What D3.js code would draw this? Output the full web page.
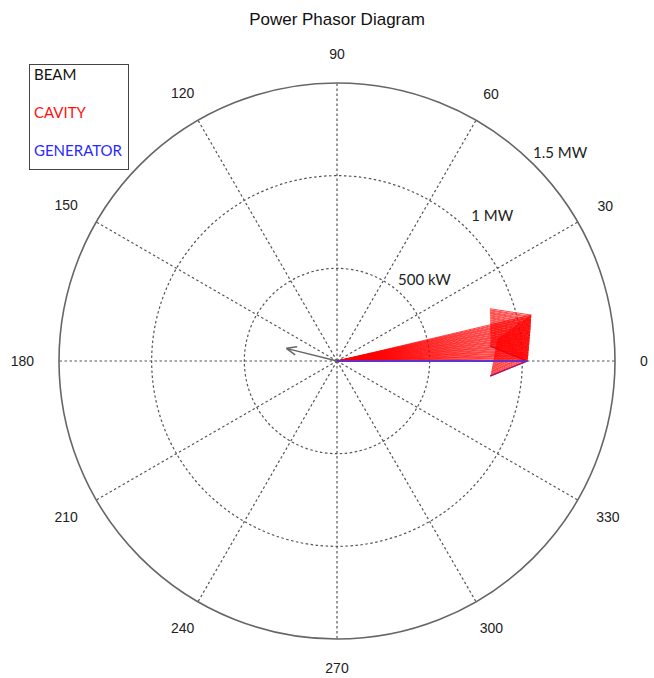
<!DOCTYPE html>
<html>
<head>
<meta charset="utf-8">
<script src="https://cdn.jsdelivr.net/npm/d3@7"></script>
<style>
  body { margin: 0; background: #fff; }
  svg { display: block; }
</style>
</head>
<body>
<svg width="654" height="678"></svg>
<script>
// angle ticks (degrees) and power rings (kW)
const angleTicks = [0, 30, 60, 90, 120, 150, 180, 210, 240, 270, 300, 330];
const ringValues = [500, 1000, 1500];
const ringLabels = ["500 kW", "1 MW", "1.5 MW"];

// phasors: angle in degrees, power in kW
const beamAngle = 166;
const beamPower = 282;
const generatorAngle = 0;
const generatorPower = 1026;
const cavityAngle = [0, 0.3, 0.7, 1.0, 1.4, 1.7, 2.0, 2.4, 2.7, 3.1, 3.4, 3.7, 4.1, 4.4, 4.8, 5.1, 5.4, 5.8, 6.1, 6.5,
  6.8, 7.1, 7.5, 7.8, 8.2, 8.5, 8.8, 9.2, 9.5, 9.9, 10.2, 10.5, 10.9, 11.2, 11.6, 11.9, 12.2, 12.6, 12.9, 13.3];
const cavityPower = [1028, 1029, 1030, 1030, 1031, 1032, 1033, 1033, 1034, 1035, 1036, 1037, 1038, 1038, 1040, 1041,
  1042, 1043, 1044, 1046, 1047, 1048, 1050, 1051, 1052, 1054, 1055, 1057, 1058, 1060, 1061, 1063, 1064, 1066, 1068,
  1069, 1071, 1073, 1075, 1077];

const legendItems = [
  { name: "BEAM", color: "#111" },
  { name: "CAVITY", color: "#ff1010" },
  { name: "GENERATOR", color: "#2a2aff" }
];

const svg = d3.select("svg");
const cx = 337, cy = 361, R = 278;
const g = svg.append("g").attr("transform", `translate(${cx},${cy})`);

const r = d3.scaleLinear().domain([0, 1500]).range([0, R]);
const rad = d => d * Math.PI / 180;
const px = (a, v) => r(v) * Math.cos(rad(a));
const py = (a, v) => -r(v) * Math.sin(rad(a));

// title
svg.append("text")
  .attr("x", cx).attr("y", 25)
  .attr("text-anchor", "middle")
  .style("font", "17px 'Liberation Sans', Arial, sans-serif")
  .attr("fill", "#111")
  .text("Power Phasor Diagram");

// spokes
g.selectAll(".spoke")
  .data(angleTicks)
  .enter().append("line")
  .attr("x1", 0).attr("y1", 0)
  .attr("x2", d => px(d, 1500)).attr("y2", d => py(d, 1500))
  .attr("stroke", "#555").attr("stroke-width", 1.2)
  .attr("stroke-dasharray", "2.5,2.5");

// rings
g.selectAll(".ring")
  .data(ringValues)
  .enter().append("circle")
  .attr("r", d => r(d))
  .attr("fill", "none")
  .attr("stroke", (d, i) => i === ringValues.length - 1 ? "#666" : "#555")
  .attr("stroke-width", (d, i) => i === ringValues.length - 1 ? 1.6 : 1.2)
  .attr("stroke-dasharray", (d, i) => i === ringValues.length - 1 ? null : "2.5,2.5");

// angle labels, wider ones pushed a bit further out on the sides
g.selectAll(".alabel")
  .data(angleTicks)
  .enter().append("text")
  .attr("text-anchor", "middle")
  .attr("dy", "0.35em")
  .style("font", "14px 'Liberation Sans', Arial, sans-serif")
  .attr("fill", "#222")
  .text(d => d)
  .each(function(d) {
    const w = this.getComputedTextLength();
    const c = Math.cos(rad(d));
    const rr = R + 29 + (w / 2 - 4) * c * c;
    d3.select(this)
      .attr("x", rr * Math.cos(rad(d)))
      .attr("y", -rr * Math.sin(rad(d)));
  });

// ring labels
g.selectAll(".rlabel")
  .data(ringValues)
  .enter().append("text")
  .attr("x", d => (r(d) + 27) * Math.cos(rad(43)))
  .attr("y", d => -(r(d) + 27) * Math.sin(rad(43)))
  .attr("dy", "0.35em")
  .attr("text-anchor", "middle")
  .style("font", "15px Lato, 'Noto Sans', sans-serif")
  .attr("fill", "#222")
  .text((d, i) => ringLabels[i]);

// arrow path: shaft plus two barbs, head is ~20% of the length
function arrowPath(a, v) {
  const x = px(a, v), y = py(a, v);
  const len = r(v) * 0.21;
  const back = rad(a + 180);
  const b1 = back - rad(22), b2 = back + rad(22);
  return `M0,0L${x},${y}` +
    `M${x},${y}L${x + len * Math.cos(b1)},${y - len * Math.sin(b1)}` +
    `M${x},${y}L${x + len * Math.cos(b2)},${y - len * Math.sin(b2)}`;
}

// generator phasor
g.append("path")
  .attr("d", arrowPath(generatorAngle, generatorPower))
  .attr("fill", "none")
  .attr("stroke", "#3a3aff")
  .attr("stroke-width", 1.5);

// cavity phasors
g.selectAll(".cavity")
  .data(cavityAngle)
  .enter().append("path")
  .attr("d", (d, i) => arrowPath(d, cavityPower[i]))
  .attr("fill", "none")
  .attr("stroke", "#ff0000")
  .attr("stroke-opacity", 0.8)
  .attr("stroke-width", 0.9);

// generator shaft again on top
g.append("line")
  .attr("x1", 0).attr("y1", 0)
  .attr("x2", px(generatorAngle, generatorPower)).attr("y2", py(generatorAngle, generatorPower))
  .attr("stroke", "#3a3aff")
  .attr("stroke-width", 1.5);

// beam phasor
g.append("path")
  .attr("d", arrowPath(beamAngle, beamPower))
  .attr("fill", "none")
  .attr("stroke", "#666")
  .attr("stroke-width", 1.5);

// legend
const legend = svg.append("g");
legend.append("rect")
  .attr("x", 29.5).attr("y", 64.5)
  .attr("width", 99).attr("height", 105)
  .attr("fill", "#fff")
  .attr("stroke", "#444").attr("stroke-width", 1);

legend.selectAll("text")
  .data(legendItems)
  .enter().append("text")
  .attr("x", 34)
  .attr("y", (d, i) => 80 + i * 38)
  .style("font", "15px Lato, 'Noto Sans', sans-serif")
  .attr("fill", d => d.color)
  .text(d => d.name);
</script>
</body>
</html>
